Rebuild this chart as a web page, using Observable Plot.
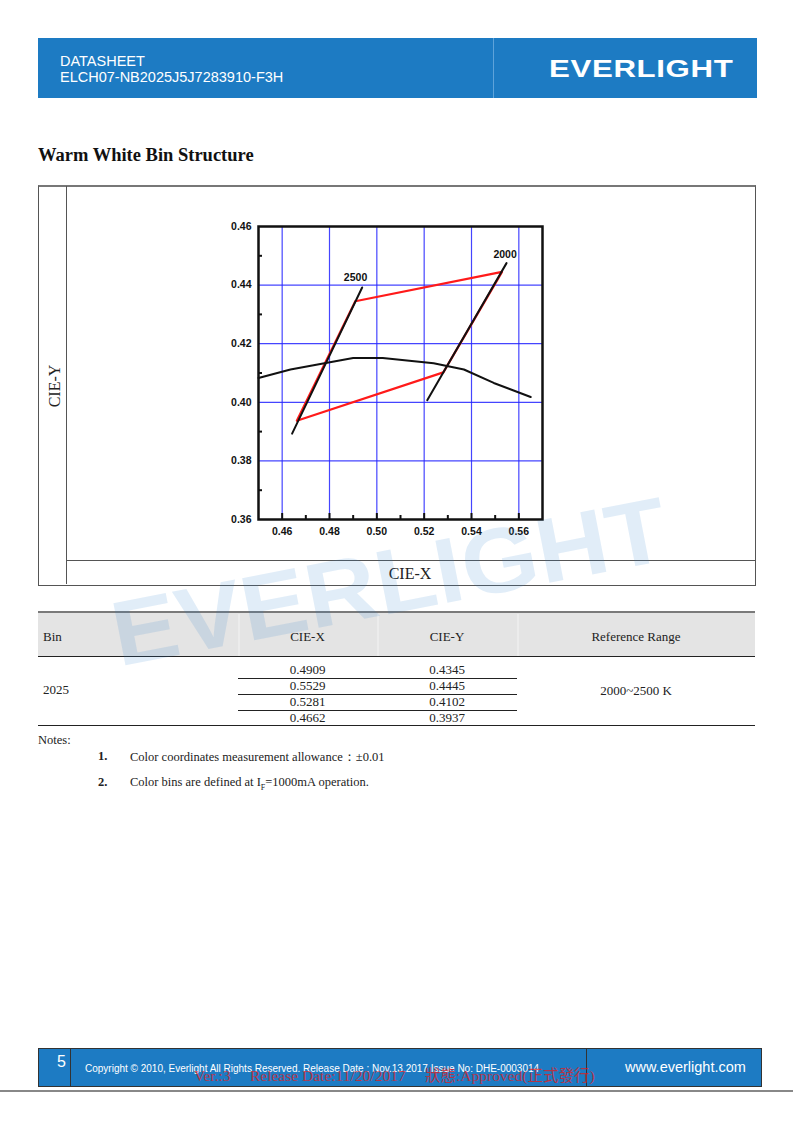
<!DOCTYPE html>
<html>
<head>
<meta charset="utf-8">
<script src="https://cdn.jsdelivr.net/npm/d3@7"></script>
<script src="https://cdn.jsdelivr.net/npm/@observablehq/plot@0.6"></script>
<style>
  html, body { margin: 0; padding: 0; background: #fff; }
  #page { position: relative; width: 793px; height: 1123px; overflow: hidden; font-family: "Liberation Serif", "Times New Roman", serif; color: #222; }
  .abs { position: absolute; }
  .sans { font-family: "Liberation Sans", Arial, sans-serif; }
  .hline { position: absolute; height: 0; }
  .vline { position: absolute; width: 0; }
</style>
</head>
<body>
<div id="page">
  <!-- header -->
  <div class="abs" style="left:38px; top:38px; width:719px; height:60px; background:#1d7bc3;"></div>
  <div class="abs" style="left:493px; top:38px; width:1px; height:60px; background:#5ea3da;"></div>
  <div class="abs sans" style="left:60px; top:53px; color:#fff; font-size:14.5px; line-height:16px;">DATASHEET<br>ELCH07-NB2025J5J7283910-F3H</div>
  <div class="abs sans" style="left:549px; top:57px; color:#fff; font-size:24px; font-weight:bold; letter-spacing:0.5px; line-height:24px; transform-origin:0 0; transform:scaleX(1.3); white-space:nowrap;">EVERLIGHT</div>

  <!-- title -->
  <div class="abs" style="left:38px; top:145px; font-size:18.5px; font-weight:bold; color:#111;">Warm White Bin Structure</div>

  <!-- chart frame -->
  <div class="abs" style="left:38px; top:185px; width:716px; height:398px; border:1.5px solid #555; border-top:2.5px solid #777;"></div>
  <div class="vline" style="left:66px; top:186px; height:398px; border-left:1.5px solid #555;"></div>
  <div class="hline" style="left:66px; top:560px; width:690px; border-top:1.5px solid #555;"></div>
  <div class="abs" style="left:55px; top:386px; font-size:16px; transform:translate(-50%,-50%) rotate(-90deg); white-space:nowrap;">CIE-Y</div>
  <div class="abs" style="left:410px; top:574px; font-size:16px; transform:translate(-50%,-50%); white-space:nowrap;">CIE-X</div>
  <div id="chart" class="abs" style="left:200px; top:210px;"></div>

  <!-- table -->
  <div id="table"></div>

  <!-- notes -->
  <div class="abs" style="left:38px; top:733px; font-size:12.5px;">Notes:</div>
  <div class="abs" style="left:98px; top:749px; font-size:12.5px; font-weight:bold;">1.</div>
  <div class="abs" style="left:130px; top:749px; font-size:12.5px;">Color coordinates measurement allowance：±0.01</div>
  <div class="abs" style="left:98px; top:775px; font-size:12.5px; font-weight:bold;">2.</div>
  <div class="abs" style="left:130px; top:775px; font-size:12.5px;">Color bins are defined at I<sub style="font-size:8px;">F</sub>=1000mA operation.</div>

  <!-- footer -->
  <div class="abs" style="left:38px; top:1048px; width:722px; height:37px; background:#1d7bc3; border:1.5px solid #333;"></div>
  <div class="vline" style="left:70px; top:1048px; height:39px; border-left:1.5px solid #333;"></div>
  <div class="vline" style="left:586px; top:1048px; height:39px; border-left:1.5px solid #333;"></div>
  <div class="abs sans" style="left:57px; top:1053px; color:#fff; font-size:16px;">5</div>
  <div class="abs sans" style="left:85px; top:1063px; color:#fff; font-size:10px; white-space:nowrap;">Copyright © 2010, Everlight All Rights Reserved. Release Date : Nov.13.2017 Issue No: DHE-0003014</div>
  <div class="abs sans" style="left:625px; top:1059px; color:#fff; font-size:14.5px;">www.everlight.com</div>
  <div class="abs" style="left:194px; top:1068px; color:rgba(225,30,30,0.75); font-size:15.5px; line-height:16px; white-space:nowrap; font-family:'Liberation Serif','Noto Sans CJK TC',serif;">Ver.:3&nbsp;&nbsp;&nbsp;&nbsp;&nbsp;Release Date:11/20/2017&nbsp;&nbsp;&nbsp;&nbsp;&nbsp;狀態:Approved(正式發行)</div>
  <div class="hline" style="left:0; top:1090px; width:793px; border-top:2px solid #888;"></div>

  <!-- watermark -->
  <div class="abs sans" style="left:104px; top:590px; z-index:10; font-size:92px; font-weight:bold; color:rgba(40,125,205,0.14); transform-origin:0 0; transform:rotate(-11deg) scaleX(1.07); white-space:nowrap; pointer-events:none; line-height:92px;">EVERLIGHT</div>
</div>

<script>
// ---- data ----
const binName = "2025";
const binX = [0.4909, 0.5529, 0.5281, 0.4662];
const binY = [0.4345, 0.4445, 0.4102, 0.3937];
const refRange = "2000~2500 K";

const locusX = [0.4500, 0.4635, 0.4790, 0.4900, 0.5025, 0.5240, 0.5368, 0.5494, 0.5650];
const locusY = [0.4083, 0.4112, 0.4135, 0.4151, 0.4151, 0.4133, 0.4112, 0.4066, 0.4018];

const iso2500X = [0.4642, 0.4938];
const iso2500Y = [0.3893, 0.4392];
const iso2000X = [0.5213, 0.5548];
const iso2000Y = [0.4007, 0.4475];

const isoLabels = ["2500", "2000"];
const isoLabelX = [0.4910, 0.5542];
const isoLabelY = [0.4426, 0.4503];

const xTicks = [0.46, 0.48, 0.50, 0.52, 0.54, 0.56];
const xMinor = [0.47, 0.49, 0.51, 0.53, 0.55];
const yTicks = [0.36, 0.38, 0.40, 0.42, 0.44, 0.46];
const yGrid = [0.38, 0.40, 0.42, 0.44];
const yMinor = [0.37, 0.39, 0.41, 0.43, 0.45];

const tableHeader = ["Bin", "CIE-X", "CIE-Y", "Reference Range"];

// ---- chart ----
const toPts = (xs, ys) => xs.map((x, i) => ({x, y: ys[i]}));
const polygon = toPts(binX.concat([binX[0]]), binY.concat([binY[0]]));
const gridBlue = "#2424ff";
const tickFont = {fontWeight: "bold", fontSize: 10.5, fontFamily: "Liberation Sans, Arial, sans-serif"};

const chart = Plot.plot({
  width: 360,
  height: 340,
  marginLeft: 58,
  marginRight: 18,
  marginTop: 16,
  marginBottom: 31,
  x: {domain: [0.45, 0.57]},
  y: {domain: [0.36, 0.46]},
  style: {background: "transparent", color: "#111"},
  marks: [
    Plot.gridX(xTicks, {stroke: gridBlue, strokeOpacity: 0.85, strokeWidth: 1.2}),
    Plot.gridY(yGrid, {stroke: gridBlue, strokeOpacity: 0.85, strokeWidth: 1.2}),
    Plot.line(polygon, {x: "x", y: "y", stroke: "#ff1a1a", strokeWidth: 2.2}),
    Plot.line(toPts(locusX, locusY), {x: "x", y: "y", stroke: "#111", strokeWidth: 2}),
    Plot.line(toPts(iso2500X, iso2500Y), {x: "x", y: "y", stroke: "#111", strokeWidth: 2}),
    Plot.line(toPts(iso2000X, iso2000Y), {x: "x", y: "y", stroke: "#111", strokeWidth: 2}),
    Plot.text(isoLabels, {x: (d, i) => isoLabelX[i], y: (d, i) => isoLabelY[i], text: d => d, fontWeight: "bold", fontSize: 10.5, fontFamily: "Liberation Sans, Arial, sans-serif", fill: "#111"}),
    Plot.axisX(xTicks, {anchor: "bottom", tickSize: 6, dy: -6, fill: "none", label: null, stroke: "#111", strokeWidth: 2}),
    Plot.axisX(xMinor, {anchor: "bottom", tickSize: 4, dy: -4, fill: "none", label: null, stroke: "#111", strokeWidth: 2}),
    Plot.axisY(yMinor, {anchor: "left", tickSize: 4, dx: 4, fill: "none", label: null, stroke: "#111", strokeWidth: 2}),
    Plot.axisX(xTicks, {anchor: "bottom", tickSize: 0, tickPadding: 8, tickFormat: d3.format(".2f"), label: null, ...tickFont}),
    Plot.axisY(yTicks, {anchor: "left", tickSize: 0, tickPadding: 7, tickFormat: d3.format(".2f"), label: null, ...tickFont}),
    Plot.frame({stroke: "#111", strokeWidth: 2.5})
  ]
});
document.getElementById("chart").appendChild(chart);

// ---- table ----
const page = document.getElementById("page");
function add(html) { page.insertAdjacentHTML("beforeend", html); }
const colL = [38, 238, 377, 517];
const colR = [238, 377, 517, 755];
add(`<div class="abs" style="left:38px;top:612px;width:717px;height:44px;background:#e4e4e4;"></div>`);
add(`<div class="abs" style="left:238px;top:614px;width:2px;height:42px;background:#ececec;"></div>`);
add(`<div class="abs" style="left:377px;top:614px;width:2px;height:42px;background:#ececec;"></div>`);
add(`<div class="abs" style="left:517px;top:614px;width:2px;height:42px;background:#ececec;"></div>`);
add(`<div class="hline" style="left:38px;top:611px;width:717px;border-top:2.5px solid #7a7a7a;"></div>`);
add(`<div class="hline" style="left:38px;top:656px;width:717px;border-top:1.5px solid #222;"></div>`);
add(`<div class="hline" style="left:38px;top:725px;width:717px;border-top:1.5px solid #222;"></div>`);
tableHeader.forEach((h, i) => {
  const style = i === 0 ? `left:43px;` : `left:${(colL[i] + colR[i]) / 2}px;transform:translateX(-50%);`;
  add(`<div class="abs" style="${style}top:629px;font-size:13px;white-space:nowrap;">${h}</div>`);
});
const fmt4 = d3.format(".4f");
binX.forEach((x, i) => {
  const cy = 670 + i * 16;
  add(`<div class="abs" style="left:${(colL[1] + colR[1]) / 2}px;top:${cy - 8}px;transform:translateX(-50%);font-size:13px;">${fmt4(x)}</div>`);
  add(`<div class="abs" style="left:${(colL[2] + colR[2]) / 2}px;top:${cy - 8}px;transform:translateX(-50%);font-size:13px;">${fmt4(binY[i])}</div>`);
  if (i < binX.length - 1) add(`<div class="hline" style="left:238px;top:${cy + 8}px;width:279px;border-top:1.5px solid #222;"></div>`);
});
add(`<div class="abs" style="left:43px;top:682px;font-size:13px;">${binName}</div>`);
add(`<div class="abs" style="left:${(colL[3] + colR[3]) / 2}px;top:683px;transform:translateX(-50%);font-size:13px;white-space:nowrap;">${refRange}</div>`);
</script>
</body>
</html>
